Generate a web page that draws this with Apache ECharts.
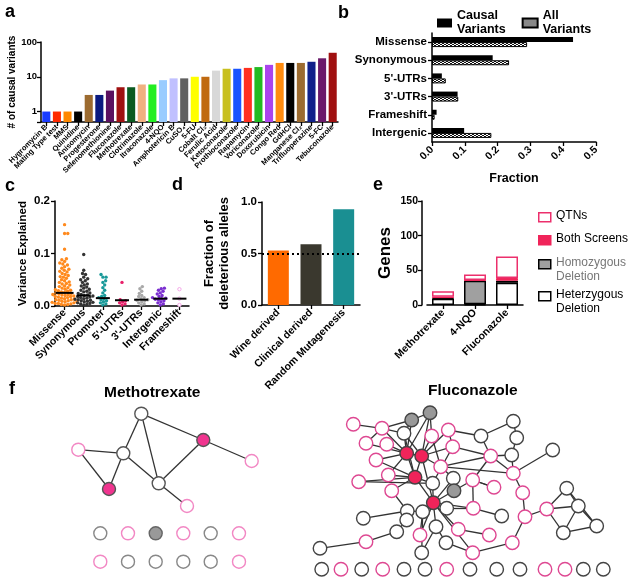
<!DOCTYPE html>
<html><head><meta charset="utf-8">
<script src="https://cdn.jsdelivr.net/npm/echarts@6/dist/echarts.min.js"></script>
<style>html,body{margin:0;padding:0;background:#fff}#c{width:631px;height:586px}</style>
</head><body><div id="c"></div>
<script>
// ---------- DATA ----------
// Panel a
const aCats = ['Hygromycin B','Mating Type test','MMS','Quinidine','Anisomycin','Progesterone','Selenomethionine','Fluconazole','Methotrexate','Clotrimazole','Itraconazole','4-NQO','Amphotericin B','CuSO₄','5-FU','Cobalt Cl₂','Ferulic Acid','Ketoconazole','Prothioconazole','Rapamycin','Voriconazole','Doxorubicin','Congo Red','GdHCl','Manganese Cl₂','Trifluoperazine','5-FC','Tebuconazole'];
const aValues = [1,1,1,1,3,3,4,5,5,6,6,8,9,9,10,10,15,17,17,18,19,22,25,25,25,27,34,49];
const aTicks = [1,10,100];
// Panel b
const bCats = ['Missense','Synonymous',"5'-UTRs","3'-UTRs",'Frameshift','Intergenic'];
const bCausal = [0.43,0.185,0.03,0.078,0.014,0.098];
const bAll = [0.29,0.235,0.042,0.08,0.008,0.181];
// Panel c
const cCats = ['Missense','Synonymous','Promoter',"5'-UTRs","3'-UTRs",'Intergenic','Frameshift'];
const cMissense = [0.155,0.138,0.138,0.108,0.09,0.088,0.085,0.082,0.08,0.078,0.075,0.072,0.07,0.068,0.066,0.065,0.062,0.06,0.058,0.056,0.055,0.053,0.05,0.048,0.046,0.045,0.043,0.042,0.04,0.038,0.037,0.035,0.034,0.032,0.031,0.03,0.029,0.028,0.027,0.026,0.025,0.024,0.023,0.022,0.022,0.021,0.02,0.019,0.018,0.018,0.017,0.016,0.015,0.014,0.013,0.012,0.012,0.011,0.01,0.009,0.008,0.008,0.007,0.006,0.005,0.005,0.004,0.003,0.003,0.002];
const cSynonymous = [0.098,0.068,0.062,0.06,0.055,0.052,0.05,0.048,0.045,0.042,0.04,0.038,0.036,0.034,0.032,0.03,0.028,0.027,0.025,0.024,0.022,0.021,0.02,0.019,0.018,0.017,0.016,0.015,0.014,0.013,0.012,0.011,0.01,0.009,0.008,0.007,0.006,0.005,0.004,0.003,0.002];
const cPromoter = [0.06,0.055,0.055,0.048,0.045,0.04,0.035,0.03,0.025,0.02,0.018,0.016,0.014,0.012,0.01,0.008,0.006,0.004,0.002];
const cUTR5 = [0.045,0.012,0.01,0.008,0.006,0.004,0.002];
const cUTR3 = [0.037,0.033,0.028,0.024,0.02,0.018,0.016,0.014,0.012,0.011,0.01,0.008,0.006,0.004,0.002];
const cIntergenic = [0.034,0.033,0.03,0.028,0.025,0.023,0.02,0.018,0.016,0.015,0.014,0.013,0.012,0.01,0.008,0.006,0.004,0.002];
const cFrameshift = [0.032,0.014,0.002];
const cMedians = [0.025,0.02,0.015,0.011,0.012,0.014,0.014];
// Panel d
const dCats = ['Wine derived','Clinical derived','Random Mutagenesis'];
const dValues = [0.53,0.59,0.93];
const dThreshold = 0.5;
// Panel e
const eCats = ['Methotrexate','4-NQO','Fluconazole'];
const eHet = [9,1,32];
const eHomo = [1,34,3];
const eBoth = [2,1,4];
const eQTN = [8,8,31];
// Panel f : network layouts [x, y, type]  (W het, G homo, R both, P QTN, O isolated het)
const mtxNodes = [[141.3,413.7,'W'],[203.3,440,'R'],[251.7,461,'P'],[78.3,449.7,'P'],[123.3,453.3,'W'],[109,489,'R'],[158.7,483.3,'W'],[187,506,'P'],
 [100.3,533.3,'O'],[128,533.3,'P'],[155.7,533.3,'G'],[183.3,533.3,'P'],[210.7,533.3,'O'],[239,533.3,'P'],
 [100.3,561.7,'P'],[128,561.7,'O'],[155.7,561.7,'O'],[183.3,561.7,'O'],[210.7,561.7,'O'],[239,561.7,'P']];
const mtxLinks = [[1,5],[1,7],[1,2],[2,3],[2,7],[4,5],[4,6],[5,6],[5,7],[7,8]];
const fluNodes = [[353.3,424.3,'P'],[382,428.3,'P'],[366,443.3,'P'],[386.7,444.3,'P'],[411.7,420,'G'],[430,412.7,'G'],[404,433.3,'W'],[431.7,436,'P'],[448.3,430,'P'],[406.7,453.3,'R'],
 [421.7,456,'R'],[452.7,446.7,'P'],[376,460,'P'],[388.3,475,'P'],[358.7,481.7,'P'],[415,477.3,'R'],[440.7,466.7,'P'],[432.7,483.3,'W'],[453.3,478.3,'W'],[454,490.7,'G'],
 [472.7,480,'P'],[490.7,456,'P'],[481,436,'W'],[513.3,421.3,'W'],[516.7,437.7,'W'],[511.7,455,'W'],[513.3,473.3,'P'],[494,487.3,'P'],[391.7,490.7,'P'],[433.3,502.7,'R'],
 [446.7,508.3,'W'],[422.7,511.7,'W'],[407.3,511,'W'],[406.7,520,'W'],[363.3,518.3,'W'],[396.7,531.7,'W'],[436,526.7,'W'],[420,535,'P'],[458.3,529.3,'P'],[473.3,508.3,'P'],
 [501.7,516,'W'],[489.3,535,'P'],[446,542.7,'W'],[421.7,552.7,'W'],[472.7,552.7,'P'],[512.3,542.7,'P'],[522.7,492.7,'P'],[525,516.7,'P'],[546.7,509,'P'],[552.7,450,'W'],
 [566.7,488.3,'W'],[578.3,506,'W'],[563.3,532.7,'W'],[596.7,526,'W'],[320,548.3,'W'],[366,541.7,'P'],
 [321.7,569.3,'W'],[341,569.3,'P'],[361.7,569.3,'W'],[382.7,569.3,'P'],[404,569.3,'W'],[425,569.3,'W'],[446.7,569.3,'P'],[470,569.3,'W'],[496.7,569.3,'W'],[520,569.3,'W'],[545,569.3,'P'],[565,569.3,'P'],[583.3,569.3,'W'],[603.3,569.3,'W']];
const fluLinks = [[1,2],[2,3],[2,5],[2,7],[5,6],[5,10],[5,7],[6,11],[6,8],[6,10],[7,10],[7,11],[8,11],[8,17],[9,12],[9,11],[10,11],[10,16],[10,13],[10,14],[11,16],[11,17],[11,12],[11,30],[4,10],[3,10],[12,22],[12,18],[16,30],[16,18],[16,29],[16,15],[17,19],[17,27],[17,22],[19,20],[19,30],[20,30],[20,21],[21,22],[21,28],[22,23],[22,26],[22,27],[23,24],[23,9],[24,25],[25,26],[26,27],[27,47],[47,48],[48,49],[48,46],[49,51],[49,52],[49,53],[51,52],[51,54],[52,53],[52,54],[53,54],[27,50],[46,45],[45,30],[45,43],[30,31],[30,32],[30,40],[30,39],[30,37],[30,18],[31,40],[39,42],[40,41],[32,33],[33,35],[33,34],[34,36],[36,56],[56,55],[37,43],[38,32],[38,30],[29,33],[13,16],[14,16],[15,18],[28,21],[44,37],[44,32],[40,21],[2,10],[7,16]];

// ---------- STYLES ----------
const FONT = 'Liberation Sans, Arial, sans-serif';
const aColors = ['#1a3cff','#ff2a00','#ff8800','#000000','#9c6b30','#0a1a80','#5a1060','#a01010','#0a5a20','#f0b080','#22ee22','#99ccff','#c0c0ff','#606060','#ffff00','#c06a10','#d8d8d8','#c8c020','#1a55ff','#ff3020','#22bb22','#aa44ee','#ff8c10','#000000','#9c6b30','#10208a','#6a1a6a','#a01010'];
const cColors = ['#ff8a1e','#333333','#1a9a9a','#e8206a','#a8a8a8','#7b2fd0','#f4a8e8'];
const dColors = ['#ff6a00','#3a382e','#1a8f92'];
const mtxStyle = {W:{color:'#fff',borderColor:'#555'},P:{color:'#fff',borderColor:'#f288c4'},R:{color:'#f0358f',borderColor:'#555'},G:{color:'#999',borderColor:'#666'},O:{color:'#fff',borderColor:'#888'}};
const fluStyle = {W:{color:'#fff',borderColor:'#444'},P:{color:'#fff',borderColor:'#de4892'},R:{color:'#f0245a',borderColor:'#444'},G:{color:'#999',borderColor:'#444'}};

const pat = document.createElement('canvas'); pat.width = 4; pat.height = 2;
(function(){const g = pat.getContext('2d'); g.fillStyle='#fff'; g.fillRect(0,0,4,2); g.fillStyle='#111'; g.fillRect(0,0,2,1); g.fillRect(2,1,2,1);})();

const chart = echarts.init(document.getElementById('c'), null, {renderer:'canvas'});
const lbl = (o) => Object.assign({color:'#000', fontFamily:FONT, fontWeight:'bold'}, o);
const axLine = {show:true, lineStyle:{color:'#000', width:1.5}};
const axTick = {show:true, length:4, lineStyle:{color:'#000', width:1.3}};
const swarmSets = [cMissense,cSynonymous,cPromoter,cUTR5,cUTR3,cIntergenic,cFrameshift];

function swarm(ci) {
  let off = null;
  const vals = swarmSets[ci];
  return {
    type:'custom', xAxisIndex:2, yAxisIndex:2, z:3,
    data: vals.map(v => [ci, v]),
    renderItem(params, api) {
      if (params.dataIndexInside === 0 || !off) {
        const D = 3.2;
        const pts = vals.map((v,k) => ({k, y: api.coord([ci, v])[1]}));
        pts.sort((p,q) => q.y - p.y);
        const placed = []; off = new Array(vals.length);
        pts.forEach(p => {
          const cands = [0];
          placed.forEach(q => { const dy = p.y - q.y; if (Math.abs(dy) < D) { const dx = Math.sqrt(D*D - dy*dy); cands.push(q.x + dx, q.x - dx); } });
          cands.sort((a,b) => Math.abs(a) - Math.abs(b));
          const best = cands.find(c => placed.every(q => (c-q.x)*(c-q.x) + (p.y-q.y)*(p.y-q.y) >= D*D - 1e-6));
          placed.push({x:best, y:p.y}); off[p.k] = best;
        });
      }
      const pt = api.coord([api.value(0), api.value(1)]);
      const k = params.dataIndex;
      const open = ci === 6;
      return {type:'circle', shape:{cx: pt[0] + off[k], cy: pt[1], r: 1.7},
        style: open ? {fill:'#fff', stroke:cColors[ci], lineWidth:1} : {fill: cColors[ci]}};
    }
  };
}

function graphSeries(nodes, links, styles, size) {
  return {
    type:'graph', layout:'none', coordinateSystem:'cartesian2d', xAxisIndex:5, yAxisIndex:5,
    symbolSize:size, silent:true, animation:false,
    data: nodes.map((n,i) => ({name:String(i+1), value:[n[0], n[1]], itemStyle:Object.assign({borderWidth:1.4}, styles[n[2]])})),
    links: links.map(l => ({source:String(l[0]), target:String(l[1])})),
    lineStyle:{color:'#333', width:1.3, opacity:1}
  };
}

const option = {
  animation:false,
  textStyle:{fontFamily:FONT},
  grid:[
    {left:41, top:42, width:297, height:80},
    {left:432, top:33, width:164, height:109},
    {left:55, top:201, width:134, height:105},
    {left:262, top:202, width:98, height:103},
    {left:427, top:201, width:96, height:104},
    {left:0, top:0, width:631, height:586}
  ],
  xAxis:[
    {gridIndex:0, type:'category', data:aCats, axisLine:axLine, axisTick:Object.assign({alignWithLabel:true},axTick),
      axisLabel:lbl({rotate:45, fontSize:7.5, interval:0, margin:4})},
    {gridIndex:1, type:'value', min:0, max:0.5, interval:0.1, splitLine:{show:false}, axisLine:axLine, axisTick:axTick,
      axisLabel:lbl({rotate:45, fontSize:10.5, formatter:v => v.toFixed(1), margin:6}),
      name:'Fraction', nameLocation:'middle', nameGap:30, nameTextStyle:lbl({fontSize:12.5})},
    {gridIndex:2, type:'category', data:cCats, axisLine:axLine, axisTick:Object.assign({alignWithLabel:true},axTick),
      axisLabel:lbl({rotate:45, fontSize:10.5, interval:0, margin:5})},
    {gridIndex:3, type:'category', data:dCats, axisLine:axLine, axisTick:Object.assign({alignWithLabel:true},axTick),
      axisLabel:lbl({rotate:45, fontSize:10.5, interval:0, margin:6})},
    {gridIndex:4, type:'category', data:eCats, axisLine:axLine, axisTick:Object.assign({alignWithLabel:true},axTick),
      axisLabel:lbl({rotate:45, fontSize:10.5, interval:0, margin:6})},
    {gridIndex:5, type:'value', min:0, max:631, show:false}
  ],
  yAxis:[
    {gridIndex:0, type:'log', logBase:10, min:0.5, max:100, splitLine:{show:false}, axisLine:axLine, axisTick:axTick,
      axisLabel:lbl({fontSize:9.5, margin:4, formatter:v => aTicks.some(t => Math.abs(t - v) < 1e-6) ? String(Math.round(v)) : ''}),
      name:'# of causal variants', nameLocation:'middle', nameRotate:90, nameGap:22, nameTextStyle:lbl({fontSize:10})},
    {gridIndex:1, type:'category', data:bCats, inverse:true, axisLine:axLine, axisTick:Object.assign({alignWithLabel:true},axTick),
      axisLabel:lbl({fontSize:11.5, margin:5})},
    {gridIndex:2, type:'value', min:0, max:0.2, interval:0.1, splitLine:{show:false}, axisLine:axLine, axisTick:axTick,
      axisLabel:lbl({fontSize:11.5, margin:5, formatter:v => v.toFixed(1)}),
      name:'Variance Explained', nameLocation:'middle', nameRotate:90, nameGap:26, nameTextStyle:lbl({fontSize:11.5})},
    {gridIndex:3, type:'value', min:0, max:1, interval:0.5, splitLine:{show:false}, axisLine:axLine, axisTick:axTick,
      axisLabel:lbl({fontSize:11.5, margin:5, formatter:v => v.toFixed(1)}),
      name:'Fraction of\ndeleterious alleles', nameLocation:'middle', nameRotate:90, nameGap:30, nameTextStyle:lbl({fontSize:13, lineHeight:15})},
    {gridIndex:4, type:'value', min:0, max:150, interval:50, offset:5, splitLine:{show:false}, axisLine:axLine, axisTick:axTick,
      axisLabel:lbl({fontSize:10.5, margin:4}),
      name:'Genes', nameLocation:'middle', nameRotate:90, nameGap:28, nameTextStyle:lbl({fontSize:17})},
    {gridIndex:5, type:'value', min:0, max:586, inverse:true, show:false}
  ],
  legend:[{
    left:432, top:4, orient:'horizontal', itemWidth:15, itemHeight:9, itemGap:16, icon:'rect',
    data:['Causal Variants','All Variants'], formatter:n => n.replace(' ', '\n'),
    textStyle:lbl({fontSize:12.5, lineHeight:14}), selectedMode:false
  }],
  series:[
    {type:'custom', xAxisIndex:0, yAxisIndex:0, data:aValues.map((v,i) => [i, v]),
      renderItem(params, api) {
        const i = api.value(0);
        const top = api.coord([i, api.value(1)]);
        const base = api.coord([i, 0.5]);
        const w = api.size([1, 0])[0] * 0.76;
        return {type:'rect', shape:{x: top[0] - w/2, y: top[1], width: w, height: base[1] - top[1]},
          style:{fill: aColors[params.dataIndex]}};
      }},
    {name:'Causal Variants', type:'bar', xAxisIndex:1, yAxisIndex:1, data:bCausal, barWidth:5, barGap:'0%',
      itemStyle:{color:'#000'}},
    {name:'All Variants', type:'bar', xAxisIndex:1, yAxisIndex:1, data:bAll, barWidth:5, barGap:'0%',
      itemStyle:{color:{image:pat, repeat:'repeat'}, borderColor:'#000', borderWidth:1}},
    swarm(0), swarm(1), swarm(2), swarm(3), swarm(4), swarm(5), swarm(6),
    {type:'custom', xAxisIndex:2, yAxisIndex:2, z:5, data:cMedians.map((m,i) => [i, m]),
      renderItem(params, api) {
        const p = api.coord([api.value(0), api.value(1)]);
        const hw = params.dataIndex === 0 ? 9 : 7;
        return {type:'line', shape:{x1:p[0]-hw, y1:p[1], x2:p[0]+hw, y2:p[1]}, style:{stroke:'#000', lineWidth:2}};
      }},
    {type:'bar', xAxisIndex:3, yAxisIndex:3, barWidth:21, data:dValues.map((v,i) => ({value:v, itemStyle:{color:dColors[i]}})),
      markLine:{silent:true, symbol:'none', label:{show:false}, lineStyle:{color:'#000', type:[2,3], width:2},
        data:[{yAxis:dThreshold}]}},
    {name:'Heterzygous Deletion', type:'bar', stack:'e', xAxisIndex:4, yAxisIndex:4, barWidth:22, data:eHet,
      itemStyle:{color:'#fff', borderColor:'#000', borderWidth:1.5}},
    {name:'Homozygous Deletion', type:'bar', stack:'e', xAxisIndex:4, yAxisIndex:4, barWidth:22, data:eHomo,
      itemStyle:{color:'#a0a0a0', borderColor:'#000', borderWidth:1.5}},
    {name:'Both Screens', type:'bar', stack:'e', xAxisIndex:4, yAxisIndex:4, barWidth:22, data:eBoth,
      itemStyle:{color:'#f0245a', borderColor:'#f0245a', borderWidth:1}},
    {name:'QTNs', type:'bar', stack:'e', xAxisIndex:4, yAxisIndex:4, barWidth:22, data:eQTN,
      itemStyle:{color:'#fff', borderColor:'#ec2f6c', borderWidth:1.5}},
    graphSeries(mtxNodes, mtxLinks, mtxStyle, 13),
    graphSeries(fluNodes, fluLinks, fluStyle, 13.5)
  ],
  graphic:[
    {type:'text', left:5, top:3, style:{text:'a', font:'bold 18px '+FONT, fill:'#000'}},
    {type:'text', left:338, top:4, style:{text:'b', font:'bold 18px '+FONT, fill:'#000'}},
    {type:'text', left:5, top:177, style:{text:'c', font:'bold 18px '+FONT, fill:'#000'}},
    {type:'text', left:172, top:176, style:{text:'d', font:'bold 18px '+FONT, fill:'#000'}},
    {type:'text', left:373, top:176, style:{text:'e', font:'bold 18px '+FONT, fill:'#000'}},
    {type:'text', left:9, top:380, style:{text:'f', font:'bold 18px '+FONT, fill:'#000'}},
    {type:'text', left:104, top:385, style:{text:'Methotrexate', font:'bold 15.5px '+FONT, fill:'#000'}},
    {type:'text', left:428, top:383, style:{text:'Fluconazole', font:'bold 15.5px '+FONT, fill:'#000'}},
    {type:'rect', left:538, top:212, shape:{width:12, height:9}, style:{fill:'#fff', stroke:'#ec2f6c', lineWidth:1.5}},
    {type:'text', left:556, top:210, style:{text:'QTNs', font:'12px '+FONT, fill:'#000'}},
    {type:'rect', left:538, top:235, shape:{width:12, height:9}, style:{fill:'#f0245a', stroke:'#f0245a', lineWidth:1.5}},
    {type:'text', left:556, top:233, style:{text:'Both Screens', font:'12px '+FONT, fill:'#000'}},
    {type:'rect', left:538, top:259, shape:{width:12, height:9}, style:{fill:'#a0a0a0', stroke:'#000', lineWidth:1.5}},
    {type:'text', left:556, top:256, style:{text:'Homozygous\nDeletion', font:'12px '+FONT, fill:'#777', lineHeight:14}},
    {type:'rect', left:538, top:291, shape:{width:12, height:9}, style:{fill:'#fff', stroke:'#000', lineWidth:1.5}},
    {type:'text', left:556, top:288, style:{text:'Heterzygous\nDeletion', font:'12px '+FONT, fill:'#000', lineHeight:14}}
  ]
};
chart.setOption(option);
</script></body></html>
